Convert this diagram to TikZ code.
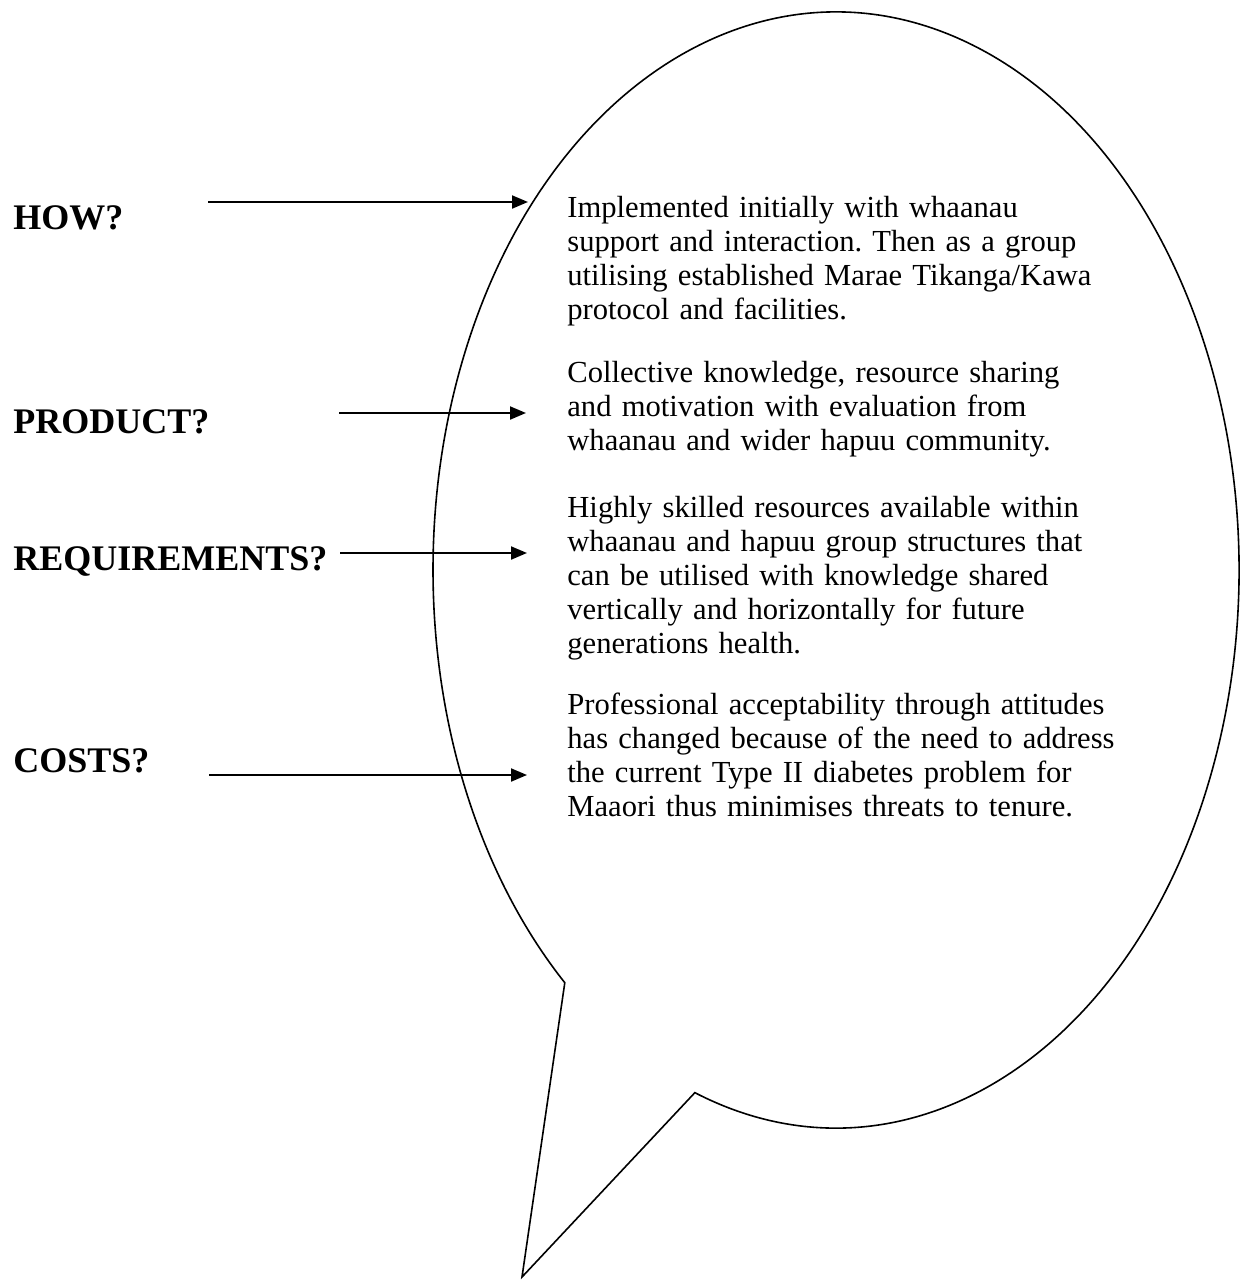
\documentclass[tikz,border=0pt]{standalone}
\usepackage{fontspec}
\setmainfont{Liberation Serif}
\usetikzlibrary{arrows.meta}
\begin{document}
\frenchspacing
\begin{tikzpicture}[x=0.5pt,y=-0.5pt,
  bubble/.style={line width=0.8pt,line join=miter},
  pointer/.style={line width=1pt,-{Triangle[length=8pt,width=6.5pt]}},
  qlabel/.style={anchor=base west,inner sep=0pt,font=\fontsize{18}{21}\selectfont\bfseries},
  answer/.style={anchor=base west,inner sep=0pt,align=left,text width=300pt,font=\fontsize{15.3}{17.1}\selectfont}]
\useasboundingbox (0,0) rectangle (1247,1281);

% speech bubble
\coordinate (R) at ({836+403*cos(110.5)},{570+558*sin(110.5)});
\coordinate (L) at ({836+403*cos(132.3)},{570+558*sin(132.3)});
\coordinate (T) at (522,1277);
\draw[bubble] (L) -- (T) -- (R) arc[start angle=110.5,end angle=-227.7,x radius=403,y radius=558] -- cycle;

% question labels
\node[qlabel] (how) at (13,229) {HOW?};
\node[qlabel] (product) at (13,433) {PRODUCT?};
\node[qlabel] (req) at (13,570) {REQUIREMENTS?};
\node[qlabel] (costs) at (13,772) {COSTS?};

% answers
\node[answer] (ans1) at (567,217) {Implemented initially with whaanau\\support and interaction. Then as a group\\utilising established Marae Tikanga/Kawa\\protocol and facilities.};
\node[answer] (ans2) at (567,382) {Collective knowledge, resource sharing\\and motivation with evaluation from\\whaanau and wider hapuu community.};
\node[answer] (ans3) at (567,517) {Highly skilled resources available within\\whaanau and hapuu group structures that\\can be utilised with knowledge shared\\vertically and horizontally for future\\generations health.};
\node[answer] (ans4) at (567,714) {Professional acceptability through attitudes\\has changed because of the need to address\\the current Type II diabetes problem for\\Maaori thus minimises threats to tenure.};

% arrows
\coordinate (s1) at (208,202); \coordinate (e1) at (528,202);
\coordinate (s2) at (339,413); \coordinate (e2) at (526,413);
\coordinate (s3) at (340,553); \coordinate (e3) at (527,553);
\coordinate (s4) at (209,775); \coordinate (e4) at (527,775);
\draw[pointer] (s1) -- (e1);
\draw[pointer] (s2) -- (e2);
\draw[pointer] (s3) -- (e3);
\draw[pointer] (s4) -- (e4);
\end{tikzpicture}
\end{document}
